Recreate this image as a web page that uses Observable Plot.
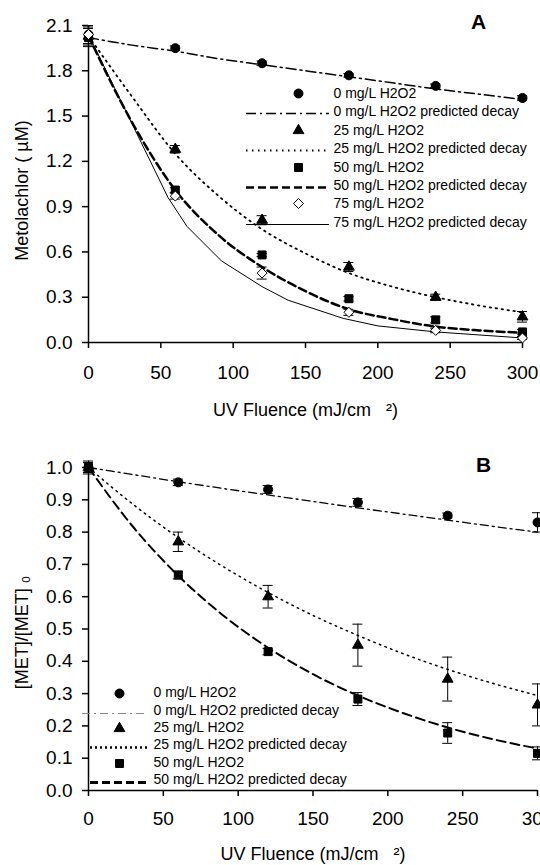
<!DOCTYPE html>
<html><head><meta charset="utf-8">
<script src="https://cdn.jsdelivr.net/npm/d3@7"></script>
<script src="https://cdn.jsdelivr.net/npm/@observablehq/plot@0.6"></script>
<style>
body{margin:0;background:#fff;}
#chart{width:540px;overflow:hidden;}
#chart svg{display:block;}
</style></head><body><div id="chart"></div>
<script>
// ---------- DATA ----------
const fluence = [0, 60, 120, 180, 240, 300];
const predFluence = [0, 30, 60, 90, 120, 150, 180, 210, 240, 270, 300];
const xTicks = [0, 50, 100, 150, 200, 250, 300];

// Panel A: Metolachlor (µM)
const seriesNamesA = ["0 mg/L H2O2", "25 mg/L H2O2", "50 mg/L H2O2", "75 mg/L H2O2"];
const a0 = [2.04, 1.95, 1.85, 1.77, 1.70, 1.62];
const a0err = [0.06, 0.015, 0.015, 0.012, 0.012, 0.015];
const a25 = [2.03, 1.28, 0.81, 0.50, 0.30, 0.17];
const a25err = [0.06, 0.025, 0.03, 0.03, 0.02, 0.035];
const a50 = [2.02, 1.01, 0.58, 0.29, 0.15, 0.07];
const a50err = [0.06, 0.015, 0.01, 0.015, 0.02, 0.015];
const a75 = [2.04, 0.97, 0.46, 0.20, 0.08, 0.03];
const a75err = [0.06, 0.02, 0.04, 0.02, 0.015, 0.01];
const a0pred = [2.02, 1.97, 1.93, 1.88, 1.84, 1.80, 1.76, 1.72, 1.68, 1.645, 1.61];
const a25pred = [2.03, 1.63, 1.25, 0.97, 0.75, 0.59, 0.46, 0.37, 0.30, 0.245, 0.20];
const a50pred = [2.03, 1.46, 1.01, 0.71, 0.50, 0.34, 0.22, 0.155, 0.105, 0.08, 0.065];
const a75predFluence = [0, 55, 68, 92, 120, 138, 176, 200, 240, 300];
const a75pred = [2.04, 0.96, 0.77, 0.54, 0.37, 0.28, 0.16, 0.11, 0.07, 0.03];
const yTicksA = [0, 0.3, 0.6, 0.9, 1.2, 1.5, 1.8, 2.1];

// Panel B: [MET]/[MET]0
const seriesNamesB = ["0 mg/L H2O2", "25 mg/L H2O2", "50 mg/L H2O2"];
const b0 = [1.0, 0.954, 0.932, 0.892, 0.851, 0.83];
const b0err = [0.015, 0.01, 0.012, 0.012, 0.008, 0.03];
const b25 = [1.0, 0.77, 0.60, 0.45, 0.345, 0.265];
const b25err = [0.02, 0.03, 0.035, 0.065, 0.068, 0.065];
const b50 = [1.0, 0.667, 0.43, 0.283, 0.178, 0.115];
const b50err = [0.015, 0.012, 0.01, 0.02, 0.032, 0.02];
const b0pred = [1.0, 0.978, 0.956, 0.935, 0.915, 0.895, 0.875, 0.856, 0.837, 0.818, 0.80];
const b25pred = [1.0, 0.885, 0.783, 0.693, 0.613, 0.542, 0.48, 0.424, 0.375, 0.332, 0.294];
const b50pred = [1.0, 0.815, 0.665, 0.542, 0.442, 0.36, 0.294, 0.24, 0.195, 0.159, 0.13];
const yTicksB = [0, 0.1, 0.2, 0.3, 0.4, 0.5, 0.6, 0.7, 0.8, 0.9, 1.0];

const xTitle = "UV Fluence (mJ/cm   \u00B2)";
const yTitleA = "Metolachlor ( \u00B5M)";
const yTitleB = "[MET]/[MET] \u2080";

// ---------- STYLE ----------
const FONT = "Liberation Sans, Arial, Helvetica, sans-serif";

function panel(cfg) {
  const {width, height, margin, yDomain, yTicks, series, legend, label, yTitle} = cfg;
  const L = margin.left, R = width - margin.right, T = margin.top, B = height - margin.bottom;
  const invX = px => (px - L) / (R - L) * 300;
  const invY = py => yDomain[0] + (B - py) / (B - T) * (yDomain[1] - yDomain[0]);
  const marks = [];
  // axes
  marks.push(Plot.axisX({ticks: xTicks, tickSize: 6, tickPadding: cfg.xTickPad, fontSize: 19, strokeWidth: 1.5, label: null}));
  marks.push(Plot.axisY({ticks: yTicks, tickFormat: ".1f", tickSize: 6, tickPadding: 10, fontSize: 19, strokeWidth: 1.5, label: null}));
  marks.push(Plot.ruleY([yDomain[0]], {strokeWidth: 1.5}));
  marks.push(Plot.ruleX([0], {strokeWidth: 1.5}));
  // titles
  marks.push(Plot.text([xTitle], {x: invX((L + R) / 2), y: invY(cfg.xTitleY), text: d => d, fontSize: 18}));
  marks.push(Plot.text([yTitle], {x: invX(22), y: invY(cfg.yTitleY), text: d => d, rotate: -90, fontSize: 18}));
  marks.push(Plot.text([label], {x: invX(cfg.labelPos[0]), y: invY(cfg.labelPos[1]), text: d => d, fontSize: 21, fontWeight: "bold"}));
  // series
  series.forEach(s => {
    const pred = s.predX.map((x, i) => ({x, y: s.pred[i]}));
    marks.push(Plot.line(pred, {x: "x", y: "y", stroke: "black", strokeWidth: s.lw, strokeDasharray: s.dash, curve: s.curve}));
  });
  series.forEach(s => {
    const pts = fluence.map((x, i) => ({x, y: s.vals[i], e: s.err[i]}));
    marks.push(Plot.ruleX(pts, {x: "x", y1: d => d.y - d.e, y2: d => d.y + d.e, stroke: "black", strokeWidth: 1}));
    marks.push(Plot.ruleY(pts, {y: d => d.y + d.e, x1: "x", x2: "x", insetLeft: -5, insetRight: -5, stroke: "black", strokeWidth: 1}));
    marks.push(Plot.ruleY(pts, {y: d => d.y - d.e, x1: "x", x2: "x", insetLeft: -5, insetRight: -5, stroke: "black", strokeWidth: 1}));
    marks.push(Plot.dot(pts, {x: "x", y: "y", symbol: s.symbol, r: s.r, fill: s.fill, stroke: "black", strokeWidth: 1}));
  });
  // legend
  const lg = legend;
  series.forEach((s, i) => {
    const ySym = lg.rows[2 * i], yLine = lg.rows[2 * i + 1];
    marks.push(Plot.dot([0], {x: invX(lg.symX), y: invY(ySym + lg.symDy), symbol: s.symbol, r: s.r, fill: s.fill, stroke: "black", strokeWidth: 1}));
    marks.push(Plot.text([s.name], {x: invX(lg.textX), y: invY(ySym), text: d => d, textAnchor: "start", fontSize: 14}));
    marks.push(Plot.ruleY([invY(yLine + lg.lineDy)], {x1: invX(s.legX1 ?? lg.lineX1), x2: invX(lg.lineX2), stroke: s.legStroke ?? "black", strokeWidth: s.legLw ?? s.lw, strokeDasharray: s.legDash ?? s.dash}));
    marks.push(Plot.text([s.name + " predicted decay"], {x: invX(lg.textX), y: invY(yLine), text: d => d, textAnchor: "start", fontSize: 14}));
  });
  return Plot.plot({
    width, height,
    marginTop: margin.top, marginRight: margin.right, marginBottom: margin.bottom, marginLeft: margin.left,
    x: {domain: [0, 300]},
    y: {domain: yDomain},
    style: {fontFamily: FONT, background: "white", color: "black"},
    marks
  });
}

const plotA = panel({
  width: 540, height: 430,
  margin: {top: 25, right: 18, bottom: 88, left: 88},
  yDomain: [0, 2.1], yTicks: yTicksA, label: "A", labelPos: [478, 22],
  yTitle: yTitleA, yTitleY: 190, xTitleY: 410, xTickPad: 17,
  series: [
    {name: seriesNamesA[0], vals: a0, err: a0err, predX: predFluence, pred: a0pred, symbol: "circle", r: 4.5, fill: "black", lw: 1.5, dash: "10,4,2,4", curve: "monotone-x"},
    {name: seriesNamesA[1], vals: a25, err: a25err, predX: predFluence, pred: a25pred, symbol: "triangle", r: 4, fill: "black", lw: 1.8, dash: "1.5,4.5", curve: "monotone-x"},
    {name: seriesNamesA[2], vals: a50, err: a50err, predX: predFluence, pred: a50pred, symbol: "square", r: 4.5, fill: "black", lw: 2.5, dash: "8,4", curve: "monotone-x"},
    {name: seriesNamesA[3], vals: a75, err: a75err, predX: a75predFluence, pred: a75pred, symbol: "diamond2", r: 4.5, fill: "white", lw: 1, dash: null, curve: "linear"}
  ],
  legend: {rows: [93, 111, 130, 148, 167, 185, 203, 222], symX: 298, symDy: 0, textX: 333, lineX1: 246, lineX2: 329, lineDy: 2}
});

const plotB = panel({
  width: 540, height: 435,
  margin: {top: 37, right: 3, bottom: 75, left: 88},
  yDomain: [0, 1.0], yTicks: yTicksB, label: "B", labelPos: [483, 35],
  yTitle: yTitleB, yTitleY: 202, xTitleY: 424, xTickPad: 15,
  series: [
    {name: seriesNamesB[0], vals: b0, err: b0err, predX: predFluence, pred: b0pred, symbol: "circle", r: 4.5, fill: "black", lw: 1.3, dash: "8,4,2,4", curve: "monotone-x", legStroke: "#888", legLw: 1, legX1: 82},
    {name: seriesNamesB[1], vals: b25, err: b25err, predX: predFluence, pred: b25pred, symbol: "triangle", r: 4, fill: "black", lw: 1.5, dash: "1.5,4.5", curve: "monotone-x", legLw: 2.5, legDash: "2,3"},
    {name: seriesNamesB[2], vals: b50, err: b50err, predX: predFluence, pred: b50pred, symbol: "square", r: 4.5, fill: "black", lw: 2, dash: "9,5", curve: "monotone-x", legLw: 3, legDash: "8,4"}
  ],
  legend: {rows: [262, 280, 297, 314, 332, 349], symX: 119, symDy: 1, textX: 153, lineX1: 90, lineX2: 148, lineDy: 3}
});

document.getElementById("chart").append(plotA, plotB);
</script>
</body></html>
